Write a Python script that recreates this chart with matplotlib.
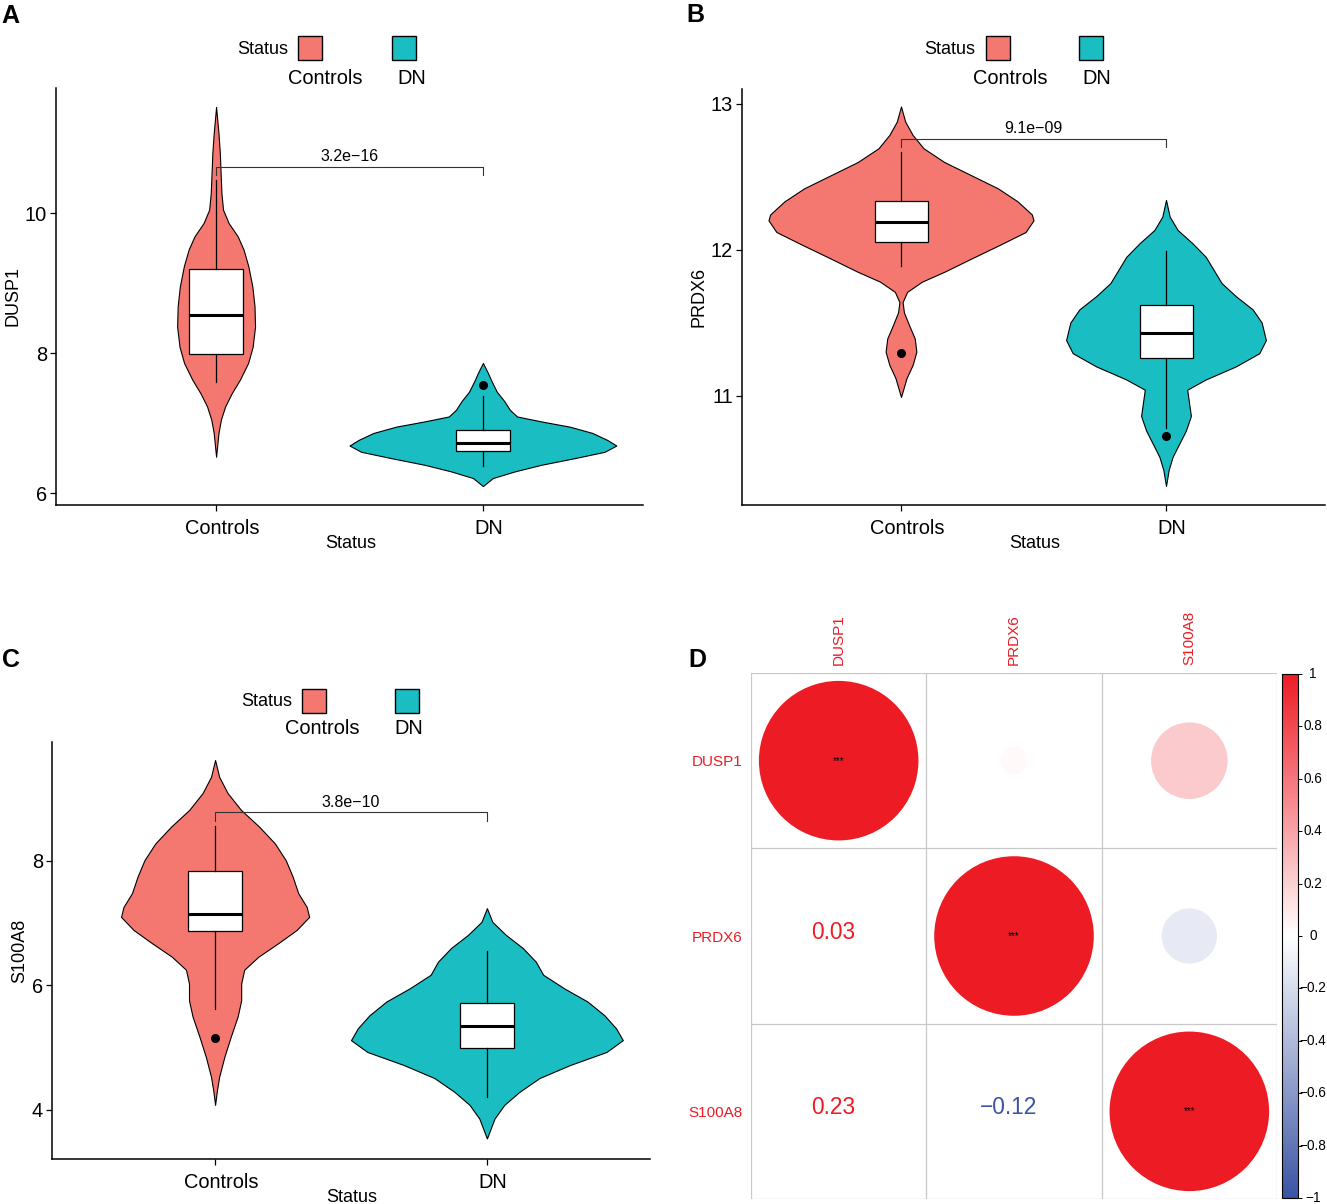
import numpy as np
import matplotlib
matplotlib.use("Agg")
import matplotlib.pyplot as plt
from matplotlib.patches import Rectangle, Circle
from matplotlib.colors import LinearSegmentedColormap, Normalize
from matplotlib.cm import ScalarMappable
from matplotlib.transforms import ScaledTranslation, blended_transform_factory

plt.rcParams['font.family'] = ['Liberation Sans', 'DejaVu Sans']

W, H = 1327, 1204
groups = ["Controls", "DN"]
fills = ["#F47870", "#19BDC2"]

# ---- panel A: DUSP1 (violin outline: value, half width) ----
a_ctrl_y = [11.52, 11.14, 10.86, 10.57, 10.29, 10.05, 9.86, 9.67, 9.48, 9.24, 8.95, 8.67, 8.38,
            8.09, 7.86, 7.62, 7.43, 7.24, 7.05, 6.86, 6.52]
a_ctrl_w = [0, 0.009, 0.014, 0.017, 0.02, 0.026, 0.047, 0.081, 0.103, 0.121, 0.136, 0.144,
            0.146, 0.137, 0.12, 0.089, 0.059, 0.034, 0.018, 0.009, 0]
a_dn_y = [7.86, 7.715, 7.595, 7.45, 7.31, 7.19, 7.095, 7.02, 6.95, 6.86, 6.76, 6.68, 6.59,
          6.50, 6.405, 6.31, 6.215, 6.10]
a_dn_w = [0, 0.019, 0.033, 0.052, 0.081, 0.101, 0.128, 0.225, 0.325, 0.41, 0.466, 0.5, 0.456,
          0.344, 0.219, 0.119, 0.037, 0]
# box stats: whislo, q1, med, q3, whishi
a_box = [[7.59, 7.99, 8.55, 9.21, 10.47], [6.39, 6.60, 6.71, 6.90, 7.39]]
a_out = [[], [7.55]]

# ---- panel B: PRDX6 ----
b_ctrl_y = [12.98, 12.876, 12.785, 12.694, 12.60, 12.51, 12.42, 12.33, 12.24, 12.20, 12.12,
            12.03, 11.94, 11.85, 11.78, 11.71, 11.64, 11.57, 11.48, 11.39, 11.30, 11.21, 11.12,
            10.99]
b_ctrl_w = [0, 0.016, 0.044, 0.085, 0.163, 0.264, 0.365, 0.44, 0.494, 0.5, 0.47, 0.37, 0.267,
            0.166, 0.079, 0.023, 0.006, 0.011, 0.031, 0.052, 0.058, 0.044, 0.021, 0]
b_dn_y = [12.34, 12.225, 12.134, 12.043, 11.95, 11.86, 11.77, 11.68, 11.59, 11.50, 11.38,
          11.29, 11.20, 11.11, 11.04, 10.95, 10.86, 10.76, 10.67, 10.58, 10.49, 10.38]
b_dn_w = [0, 0.014, 0.044, 0.10, 0.15, 0.18, 0.21, 0.264, 0.327, 0.361, 0.377, 0.352, 0.264,
          0.15, 0.08, 0.087, 0.094, 0.075, 0.05, 0.025, 0.01, 0]
b_box = [[11.89, 12.05, 12.19, 12.33, 12.67], [10.78, 11.26, 11.43, 11.62, 11.99]]
b_out = [[11.29], [10.72]]

# ---- panel C: S100A8 ----
c_ctrl_y = [9.62, 9.35, 9.09, 8.82, 8.55, 8.28, 8.01, 7.75, 7.48, 7.26, 7.10, 6.89, 6.68, 6.46,
            6.25, 6.03, 5.76, 5.50, 5.18, 4.85, 4.53, 4.32, 4.08]
c_ctrl_w = [0, 0.015, 0.046, 0.095, 0.162, 0.22, 0.26, 0.285, 0.306, 0.337, 0.346, 0.30, 0.233,
            0.159, 0.107, 0.096, 0.096, 0.083, 0.058, 0.034, 0.015, 0.007, 0]
c_dn_y = [7.24, 7.02, 6.81, 6.60, 6.38, 6.17, 5.95, 5.74, 5.52, 5.31, 5.12, 4.93, 4.72, 4.51,
          4.29, 4.08, 3.86, 3.54]
c_dn_w = [0, 0.02, 0.07, 0.132, 0.18, 0.207, 0.285, 0.37, 0.432, 0.475, 0.5, 0.44, 0.306,
          0.193, 0.12, 0.064, 0.028, 0]
c_box = [[5.62, 6.87, 7.15, 7.83, 8.56], [4.21, 4.99, 5.35, 5.71, 6.55]]
c_out = [[5.15], []]

# ---- panel D: correlation ----
genes = ["DUSP1", "PRDX6", "S100A8"]
corr = [[1.0, 0.03, 0.23],
        [0.03, 1.0, -0.12],
        [0.23, -0.12, 1.0]]
cb_ticks = [1, 0.8, 0.6, 0.4, 0.2, 0, -0.2, -0.4, -0.6, -0.8, -1]
cb_labels = ["1", "0.8", "0.6", "0.4", "0.2", "0", "\u22120.2", "\u22120.4", "\u22120.6",
             "\u22120.8", "\u22121"]

fig = plt.figure(figsize=(W / 100, H / 100), dpi=100)


def px_axes(l, t, r, b):
    return fig.add_axes([l / W, 1 - b / H, (r - l) / W, (b - t) / H])


def violin_panel(ax, profiles, boxes, outs, ylim, yticks, ylabel, ptext, pbar, ylab_x):
    for i, (yy, ww) in enumerate(profiles):
        yy = np.array(yy)
        ww = np.array(ww)
        ax.fill_betweenx(yy, i + 1 - ww, i + 1 + ww, facecolor=fills[i],
                         edgecolor="black", lw=0.8, joinstyle="round", zorder=1)
    stats = []
    for bx, fl in zip(boxes, outs):
        stats.append(dict(whislo=bx[0], q1=bx[1], med=bx[2], q3=bx[3], whishi=bx[4], fliers=fl))
    ax.bxp(stats, positions=[1, 2], widths=0.2, patch_artist=True, showcaps=False,
           boxprops=dict(facecolor="white", edgecolor="black", lw=0.9),
           medianprops=dict(color="black", lw=2.2),
           whiskerprops=dict(color="black", lw=0.9),
           flierprops=dict(marker="o", markerfacecolor="black", markeredgecolor="black",
                           markersize=5.5),
           zorder=2)
    ax.plot([1, 1, 2, 2], [pbar[1], pbar[0], pbar[0], pbar[1]], color="#333333", lw=0.8)
    ax.annotate(ptext, xy=(1.5, pbar[0]), xytext=(0, 2), textcoords="offset points",
                ha="center", va="bottom", fontsize=11.5)
    ax.set_xlim(0.4, 2.6)
    ax.set_ylim(*ylim)
    ax.set_xticks([1, 2])
    ax.set_xticklabels(groups)
    ax.set_yticks(yticks)
    ax.set_yticklabels([str(v) for v in yticks])
    ax.tick_params(labelsize=14.4, length=4, width=0.9, pad=2.5, colors="black")
    ax.tick_params(axis="x", pad=6)
    shift = ScaledTranslation(6 / 100, 0, fig.dpi_scale_trans)
    for lab in ax.get_xticklabels():
        lab.set_transform(lab.get_transform() + shift)
    for s in ["top", "right"]:
        ax.spines[s].set_visible(False)
    for s in ["left", "bottom"]:
        ax.spines[s].set_linewidth(1.1)
    ax.set_ylabel(ylabel, fontsize=13, va="center")
    ax.yaxis.set_label_coords(ylab_x, 0.5)
    ax.set_xlabel("Status", fontsize=13, va="center")
    ax.xaxis.set_label_coords(0.502, -0.093)


axA = px_axes(56, 88, 643, 505)
violin_panel(axA, [(a_ctrl_y, a_ctrl_w), (a_dn_y, a_dn_w)], a_box, a_out,
             (5.83, 11.79), [6, 8, 10], "DUSP1", "3.2e\u221216", (10.66, 10.55), -0.073)

axB = px_axes(742, 89, 1325, 505)
violin_panel(axB, [(b_ctrl_y, b_ctrl_w), (b_dn_y, b_dn_w)], b_box, b_out,
             (10.25, 13.10), [11, 12, 13], "PRDX6", "9.1e\u221209", (12.76, 12.70), -0.074)

axC = px_axes(52, 742, 650, 1159)
violin_panel(axC, [(c_ctrl_y, c_ctrl_w), (c_dn_y, c_dn_w)], c_box, c_out,
             (3.21, 9.91), [4, 6, 8], "S100A8", "3.8e\u221210", (8.78, 8.64), -0.054)

# ---- correlation plot ----
cmap = LinearSegmentedColormap.from_list("rwb", ["#3A54A4", "#FFFFFF", "#ED1C24"])
norm = Normalize(-1, 1)
axD = px_axes(751, 673, 1277, 1199)
n = len(genes)
for i in range(n):
    for j in range(n):
        r = corr[i][j]
        if j >= i:
            axD.add_patch(Circle((j + 0.5, i + 0.5), 0.455 * np.sqrt(abs(r)),
                                 facecolor=cmap(norm(r)), edgecolor="none", zorder=1))
            if i == j:
                axD.text(j + 0.5, i + 0.5, "***", ha="center", va="center", fontsize=7,
                         zorder=3)
        else:
            axD.text(j + 0.47, i + 0.48, f"{r:.2f}".replace("-", "\u2212"), ha="center",
                     va="center", fontsize=16.4,
                     color="#ED1C24" if r > 0 else "#3A54A4", zorder=3)
for k in range(n + 1):
    axD.axhline(k, color="#C8C8C8", lw=0.9, zorder=0)
    axD.axvline(k, color="#C8C8C8", lw=0.9, zorder=0)
axD.set_xlim(0, n)
axD.set_ylim(n, 0)
axD.set_xticks([k + 0.5 for k in range(n)])
axD.set_xticklabels(genes, rotation=90, color="#ED1C24", fontsize=11)
axD.xaxis.tick_top()
axD.set_yticks([k + 0.5 for k in range(n)])
axD.set_yticklabels(genes, color="#ED1C24", fontsize=11)
axD.tick_params(length=0, pad=6)
for s in axD.spines.values():
    s.set_visible(False)

cax = px_axes(1282, 674, 1298, 1198)
cb = fig.colorbar(ScalarMappable(norm=norm, cmap=cmap), cax=cax)
cb.set_ticks(cb_ticks)
cb.set_ticklabels([""] * len(cb_ticks))
cb.outline.set_linewidth(0.8)
cax.tick_params(length=3, width=0.7, pad=0)
cb_trans = blended_transform_factory(cax.transAxes, cax.transData)
for v, lab in zip(cb_ticks, cb_labels):
    cax.text(1.94, v, lab, transform=cb_trans, ha="center", va="center", fontsize=9.8)

# ---- overlay: panel letters and legends ----
ov = fig.add_axes([0, 0, 1, 1], facecolor="none")
ov.set_xlim(0, W)
ov.set_ylim(H, 0)
ov.axis("off")

for letter, (lx, ly) in zip("ABCD", [(1, 16), (686, 15), (2, 660), (688, 660)]):
    ov.text(lx, ly, letter, fontsize=18, fontweight="bold", ha="left", va="center")

legend_specs = [
    # title_right, title_y, keys_left, key_top, label_left, label_y
    (288, 49, [298, 392], 36, [288, 397], 78),
    (975, 49, [986, 1079], 36, [973, 1082], 78),
    (292, 702, [302, 395], 689, [285, 394], 728),
]
for tr, ty, kl, kt, ll, ly in legend_specs:
    ov.text(tr, ty, "Status", fontsize=13, ha="right", va="center")
    for g, col, x0, tx in zip(groups, fills, kl, ll):
        ov.add_patch(Rectangle((x0, kt), 24, 24, facecolor=col, edgecolor="black", lw=1))
        ov.text(tx, ly, g, fontsize=14.4, ha="left", va="center")

fig.savefig("out.png", dpi=100)
